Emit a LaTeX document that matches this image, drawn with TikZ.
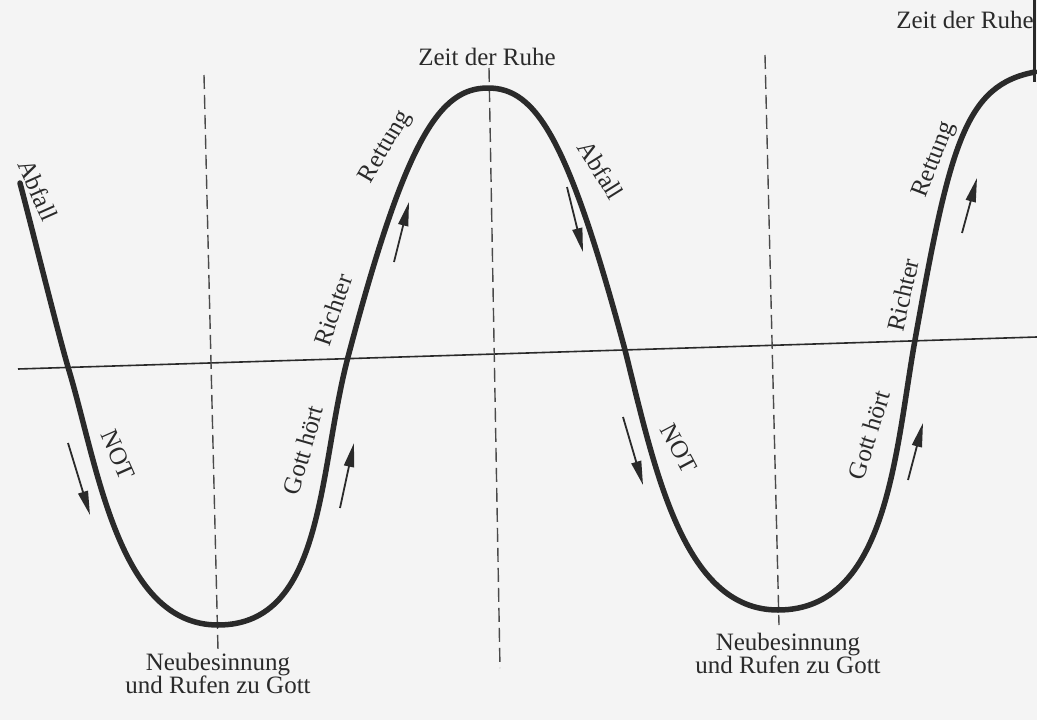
\documentclass[tikz,border=0pt]{standalone}
\usepackage{fontspec}
\setmainfont{Liberation Serif}
\usetikzlibrary{arrows.meta}
\definecolor{paper}{HTML}{F4F4F4}
\definecolor{ink}{HTML}{2A2A2A}
\begin{document}
\begin{tikzpicture}[x=1pt,y=-1pt,
  lbl/.style={text=ink, font=\fontsize{25}{23}\selectfont, inner sep=0pt, align=center},
  wave/.style={draw=ink, line width=5.5pt, line cap=round, line join=round},
  axisline/.style={draw=ink, line width=1.6pt},
  guide/.style={draw=ink!85, line width=1.4pt, dash pattern=on 14pt off 6pt},
  flow/.style={draw=ink, line width=1.8pt, -{Triangle[length=24pt,width=10pt]}}]
\fill[paper] (0,0) rectangle (1037,720);
\useasboundingbox (0,0) rectangle (1037,720);
% horizontal line
\coordinate (hl) at (18,369);
\coordinate (hr) at (1037,337);
\draw[axisline] (hl) -- (hr);
% dashed guide lines
\coordinate (g1t) at (204,75);  \coordinate (g1b) at (218,650);
\coordinate (g2t) at (489,68);  \coordinate (g2b) at (500,668);
\coordinate (g3t) at (765,55);  \coordinate (g3b) at (779,625);
\draw[guide] (g1t) -- (g1b);
\draw[guide] (g2t) -- (g2b);
\draw[guide] (g3t) -- (g3b);
% right edge bar
\coordinate (et) at (1034,0); \coordinate (eb) at (1034,82);
\draw[ink, line width=3pt] (et) -- (eb);
% the wave: start, crossings, extremes
\coordinate (s0) at (20,183);
\coordinate (c1) at (68,367);
\coordinate (m1) at (218,625);
\coordinate (c2) at (348,357);
\coordinate (x1) at (488,88);
\coordinate (c3) at (625,350);
\coordinate (m2) at (778,610);
\coordinate (c4) at (915,340);
\coordinate (e0) at (1035,72);
\draw[wave] (s0)
  .. controls (35,240) and (58,333) .. (c1)
  .. controls (98,466) and (118,625) .. (m1)
  .. controls (325,625) and (318,471) .. (c2)
  .. controls (406,137) and (440,88) .. (x1)
  .. controls (536,88) and (568,138) .. (c3)
  .. controls (655,470) and (683,610) .. (m2)
  .. controls (888,610) and (895,452) .. (c4)
  .. controls (950,144) and (965,85) .. (e0);
% arrows
\coordinate (a1s) at (68,443);  \coordinate (a1e) at (90,515);
\coordinate (a2s) at (340,508); \coordinate (a2e) at (354,443);
\coordinate (a3s) at (394,262); \coordinate (a3e) at (409,202);
\coordinate (a4s) at (567,187); \coordinate (a4e) at (583,252);
\coordinate (a5s) at (623,417); \coordinate (a5e) at (643,485);
\coordinate (a6s) at (962,233); \coordinate (a6e) at (977,178);
\coordinate (a7s) at (908,480); \coordinate (a7e) at (923,423);
\draw[flow] (a1s) -- (a1e);
\draw[flow] (a2s) -- (a2e);
\draw[flow] (a3s) -- (a3e);
\draw[flow] (a4s) -- (a4e);
\draw[flow] (a5s) -- (a5e);
\draw[flow] (a6s) -- (a6e);
\draw[flow] (a7s) -- (a7e);
% labels
\node[lbl] (ruhe1) at (487,57) {Zeit der Ruhe};
\node[lbl] (ruhe2) at (965,20) {Zeit der Ruhe};
\node[lbl] (neu1) at (218,673) {Neubesinnung\\und Rufen zu Gott};
\node[lbl] (neu2) at (788,653) {Neubesinnung\\und Rufen zu Gott};
\node[lbl, rotate=-66] (abfall1) at (38,190) {Abfall};
\node[lbl, rotate=-66] (not1) at (118,455) {NOT};
\node[lbl, rotate=74] (gott1) at (303,450) {Gott hört};
\node[lbl, rotate=71] (richter1) at (333,310) {Richter};
\node[lbl, rotate=60] (rettung1) at (386,147) {Rettung};
\node[lbl, rotate=-58] (abfall2) at (601,170) {Abfall};
\node[lbl, rotate=-62] (not2) at (679,448) {NOT};
\node[lbl, rotate=73] (gott2) at (869,435) {Gott hört};
\node[lbl, rotate=77] (richter2) at (903,295) {Richter};
\node[lbl, rotate=69] (rettung2) at (935,160) {Rettung};
\end{tikzpicture}
\end{document}
